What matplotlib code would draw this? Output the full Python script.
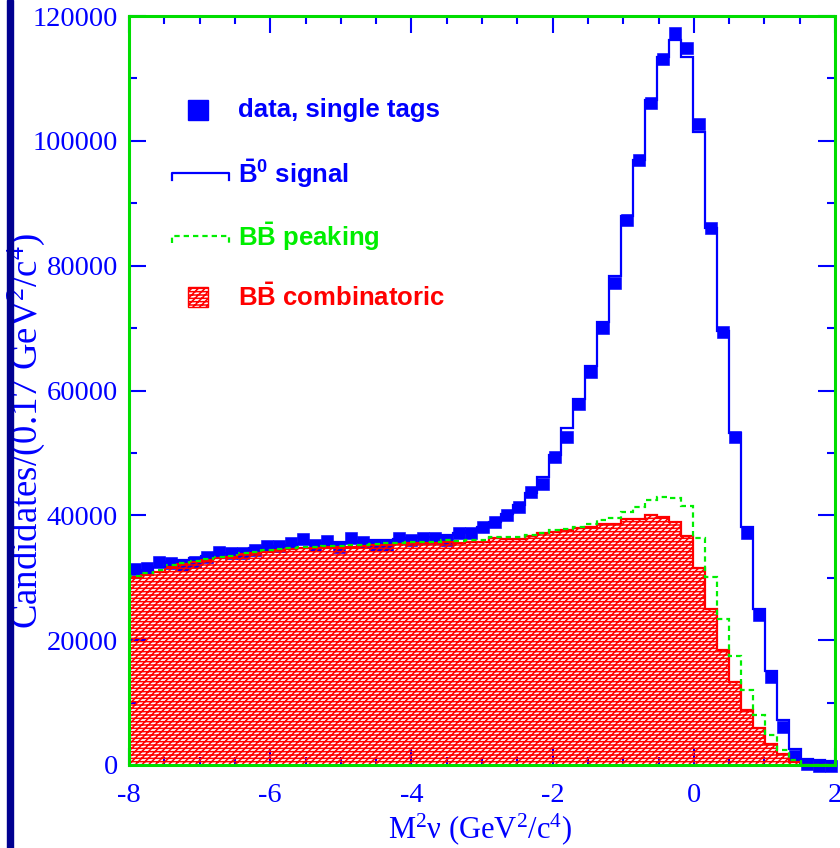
import numpy as np
import matplotlib
matplotlib.use("Agg")
from matplotlib import pyplot as plt
from matplotlib.patches import Rectangle
from matplotlib.ticker import MultipleLocator

plt.rcParams['axes.unicode_minus'] = False
plt.rcParams['mathtext.fontset'] = 'custom'
plt.rcParams['mathtext.rm'] = 'Liberation Serif'
plt.rcParams['mathtext.it'] = 'Liberation Serif:italic'
plt.rcParams['mathtext.bf'] = 'Liberation Sans:bold'
plt.rcParams['hatch.linewidth'] = 1.1

# histogram: M^2nu from -8, bin width 0.17 GeV^2/c^4 (values in thousands of candidates)
x_lo = -8.0
bin_width = 0.17

data_single_tags = [
    31.4, 31.6, 32.6, 32.3, 32.0, 32.6, 33.4, 34.2, 34.0, 34.0,
    34.5, 35.1, 35.1, 35.6, 36.2, 35.3, 35.9, 34.9, 36.3, 35.8,
    35.2, 35.3, 36.4, 36.0, 36.4, 36.4, 36.0, 37.1, 37.1, 38.1,
    39.0, 40.0, 41.3, 43.8, 45.1, 49.4, 52.6, 57.9, 62.9, 70.0,
    77.2, 87.3, 96.9, 106.0, 113.1, 117.3, 114.9, 102.7, 86.0, 69.3,
    52.6, 37.2, 24.1, 14.1, 6.1, 1.5, 0.2, -0.1, -0.1]

# stacked fit: total (signal on top), BB peaking + combinatoric, combinatoric only
fit_total = [
    30.8, 31.2, 31.7, 32.5, 32.9, 33.2, 33.5, 33.9, 34.0, 34.5,
    34.7, 34.9, 35.1, 35.3, 35.4, 35.5, 35.6, 35.7, 35.8, 35.9,
    36.0, 36.1, 36.2, 36.4, 36.5, 36.6, 36.8, 37.1, 37.5, 38.2,
    39.0, 40.2, 41.6, 43.5, 46.2, 49.6, 54.0, 58.6, 64.0, 71.0,
    78.4, 88.0, 97.0, 106.6, 113.4, 116.2, 113.5, 101.4, 86.0, 69.6,
    53.2, 38.2, 25.0, 15.1, 7.2, 2.5, 1.0, 0.8, 0.7]

bb_peak_plus_comb = [
    30.3, 30.7, 31.2, 32.0, 32.4, 32.7, 33.0, 33.4, 33.5, 34.0,
    34.2, 34.4, 34.6, 34.8, 34.9, 35.0, 35.1, 35.1, 35.2, 35.3,
    35.4, 35.5, 35.6, 35.8, 35.8, 35.8, 36.0, 35.9, 36.1, 36.1,
    36.6, 36.5, 36.6, 36.9, 37.2, 37.7, 37.8, 38.2, 38.6, 39.2,
    39.6, 40.6, 41.3, 42.5, 42.9, 42.8, 41.5, 36.4, 30.1, 23.4,
    17.4, 12.0, 8.0, 4.8, 2.4, 0.8, 0.0, 0.0, 0.0]

bb_comb = [
    30.1, 30.5, 31.0, 31.8, 32.2, 32.5, 32.8, 33.2, 33.3, 33.8,
    34.0, 34.2, 34.4, 34.6, 34.7, 34.8, 34.9, 34.9, 35.0, 35.1,
    35.2, 35.3, 35.4, 35.6, 35.6, 35.6, 35.8, 35.6, 35.8, 35.8,
    36.4, 36.2, 36.2, 36.7, 37.1, 37.4, 37.7, 38.0, 38.2, 38.6,
    38.6, 39.4, 39.4, 40.0, 39.8, 39.0, 36.7, 31.6, 25.0, 18.5,
    13.3, 8.8, 5.9, 3.4, 1.8, 0.5, 0.0, 0.0, 0.0]

legend_labels = ['data, single tags', r'$\mathbf{\bar{B}^0}$ signal',
                 r'B$\mathbf{\bar{B}}$ peaking', r'B$\mathbf{\bar{B}}$ combinatoric']

BLUE = '#0000ff'
GREEN = '#00ee00'
RED = '#ff0000'
FRAME = '#00dd00'

n = len(data_single_tags)
edges = x_lo + bin_width * np.arange(n + 1)
centers = 0.5 * (edges[:-1] + edges[1:])
scale = 1000.0

fig = plt.figure(figsize=(8.4, 8.48), dpi=100)
ax = fig.add_axes([129 / 840, 83 / 848, 706 / 840, 749 / 848])

# data squares (under the hatch, like the original)
ax.plot(centers, np.array(data_single_tags) * scale, 's', color=BLUE, ms=8.8,
        mec=BLUE, mew=0.4, zorder=1, clip_on=False)

# combinatoric: hatched fill + outline
ax.stairs(np.array(bb_comb) * scale, edges, fill=True, facecolor='none',
          edgecolor=RED, hatch='/////-----', lw=0, zorder=2)
ax.stairs(np.array(bb_comb) * scale, edges, color=RED, lw=1.6, zorder=3)
ax.stairs(np.array(bb_peak_plus_comb) * scale, edges, color=GREEN, lw=1.6,
          ls=(0, (2.4, 1.8)), zorder=4)
ax.stairs(np.array(fit_total) * scale, edges, color=BLUE, lw=1.6, zorder=5)

ax.set_xlim(-8, 2)
ax.set_ylim(0, 120000)

for sp in ax.spines.values():
    sp.set_color(FRAME)
    sp.set_linewidth(2.2)
    sp.set_zorder(6)

ax.xaxis.set_major_locator(MultipleLocator(2))
ax.xaxis.set_minor_locator(MultipleLocator(0.5))
ax.yaxis.set_major_locator(MultipleLocator(20000))
ax.yaxis.set_minor_locator(MultipleLocator(10000))
ax.tick_params(which='both', direction='in', top=True, right=True, color=BLUE,
               width=1.5, labelcolor=BLUE)
ax.tick_params(which='major', length=12)
ax.tick_params(which='minor', length=6)
ax.tick_params(axis='y', pad=8)
ax.tick_params(axis='x', pad=13)
for lab in ax.get_xticklabels() + ax.get_yticklabels():
    lab.set_fontfamily('Liberation Serif')
    lab.set_fontsize(20.5)

ax.set_xlabel(r'M$^2$ν (GeV$^2$/c$^4$)', family='Liberation Serif', fontsize=22,
              color=BLUE, va='center')
ax.xaxis.set_label_coords(0.497, -0.085)
ax.set_ylabel(r'Candidates/(0.17 GeV$^2$/c$^4$)', family='Liberation Serif',
              fontsize=26.5, color=BLUE, va='center')
ax.yaxis.set_label_coords(-0.146, 0.446)

# hand-drawn legend
tx = 0.1544
rows = [0.8745, 0.790, 0.706, 0.625]
colors = [BLUE, BLUE, GREEN, RED]
ax.plot([0.0977], [rows[0]], 's', color=BLUE, ms=14.4, transform=ax.transAxes)
bx = [0.0609, 0.0609, 0.1416, 0.1416]
d = 0.0095
ax.plot(bx, [rows[1] - d, rows[1], rows[1], rows[1] - d], color=BLUE, lw=1.6,
        transform=ax.transAxes)
ax.plot(bx, [rows[2] - d, rows[2], rows[2], rows[2] - d], color=GREEN, lw=1.6,
        ls=(0, (2.4, 1.8)), transform=ax.transAxes)
ax.add_patch(Rectangle((0.0977 - 0.0142, rows[3] - 0.0134), 0.0283, 0.0267,
                       facecolor='none', edgecolor=RED, hatch='/////-----', lw=1,
                       transform=ax.transAxes))
for lab, yy, c in zip(legend_labels, rows, colors):
    ax.text(tx, yy, lab, transform=ax.transAxes, color=c, fontsize=18.5,
            fontweight='bold', family='Liberation Sans', va='center', ha='left')

# dark page border on the left
fig.add_artist(Rectangle((7 / 840, 0), 6 / 840, 1, transform=fig.transFigure,
                         color='#000090'))

fig.savefig('out.png', dpi=100)
